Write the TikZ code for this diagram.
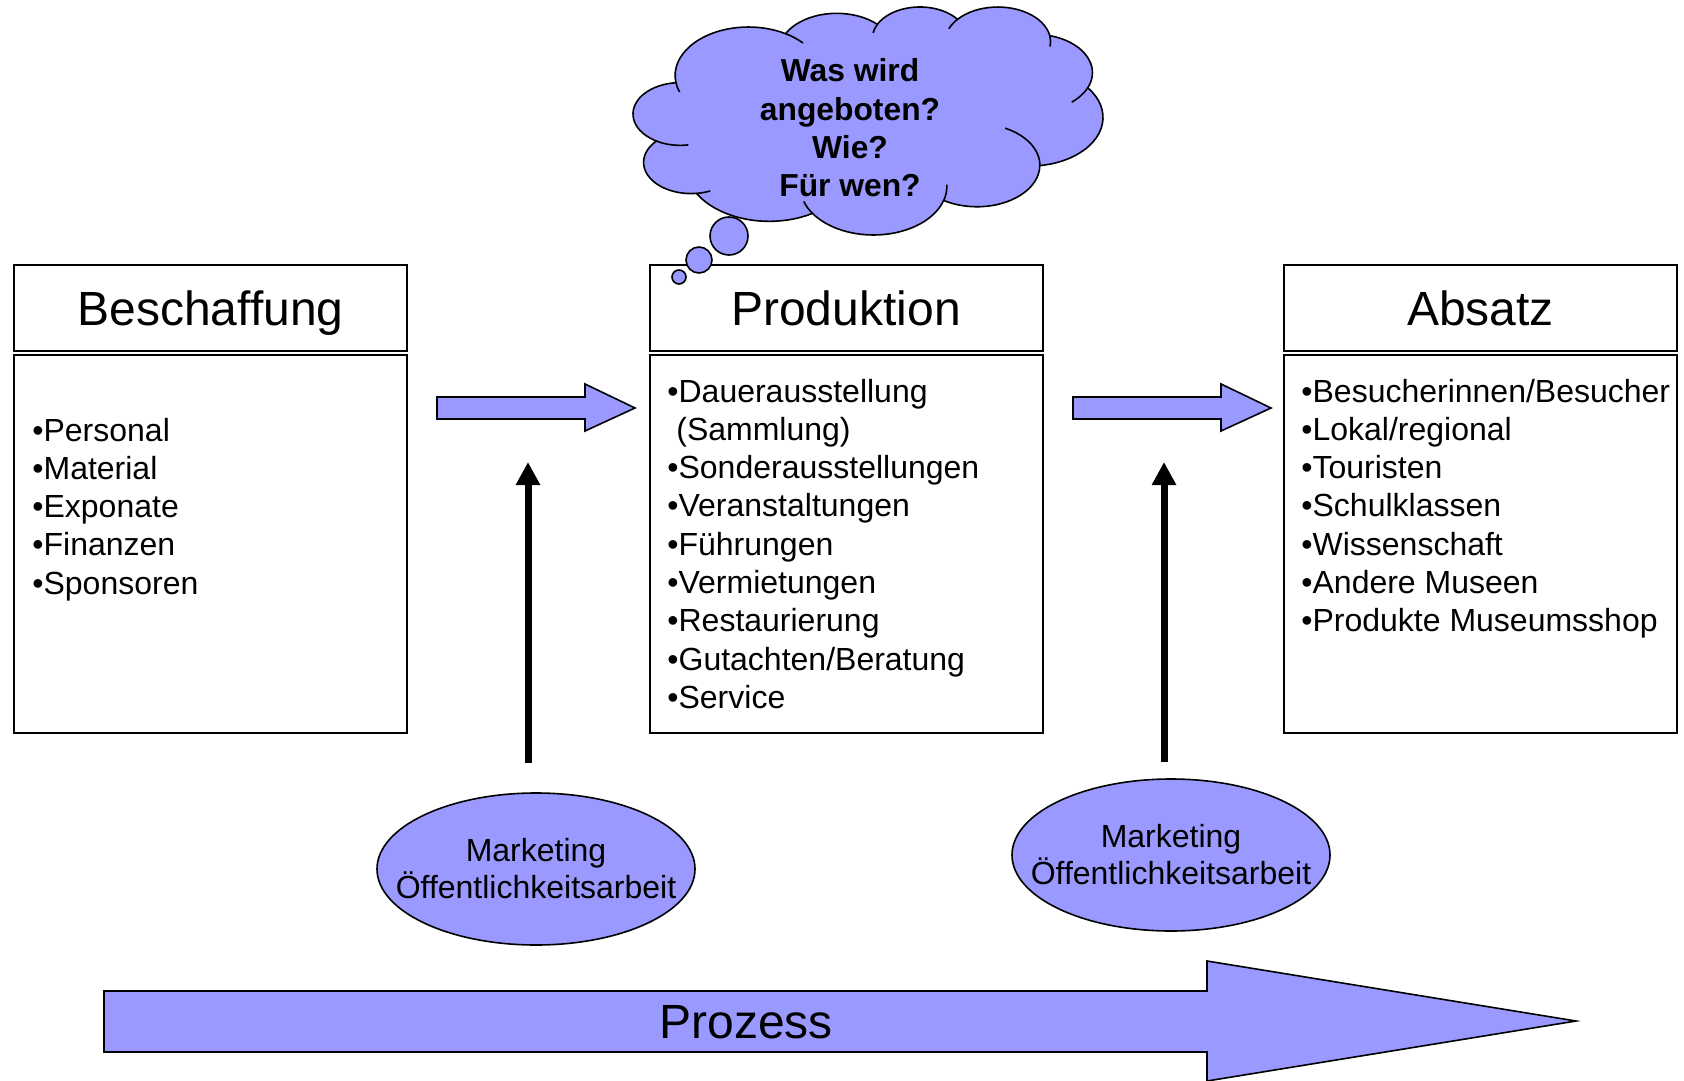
\documentclass[tikz,border=0pt]{standalone}
\usepackage{fontspec}
\setmainfont{Liberation Sans}
\usepackage{tikz}
\usetikzlibrary{positioning}
\usepackage{xcolor}
\usetikzlibrary{shapes,arrows}
\usetikzlibrary{arrows.meta}
\definecolor{lila}{HTML}{9999FF}
\def\listfont{\fontsize{16}{19.15}\selectfont}

\begin{document}
\begin{tikzpicture}[x=0.5pt, y=-0.5pt,
  head/.style={draw, line width=1pt, inner sep=0, minimum width=196.5pt, minimum height=43pt,
    font=\fontsize{24}{28}\selectfont, text height=20pt, text depth=2pt},
  panel/.style={draw, line width=1pt, minimum width=196.5pt, minimum height=189pt},
  item/.style={anchor=base west, inner sep=0, font=\listfont},
  blockarrow/.style={draw=black, fill=lila, line width=0.8pt, line join=miter},
  wolkenrand/.style={draw=black, line width=0.8pt},
  mkt/.style={ellipse, draw, fill=lila, line width=0.8pt, minimum width=159pt, minimum height=76pt},
  mkttext/.style={align=center, inner sep=0, font=\fontsize{16}{18.5}\selectfont},
  push/.style={line width=3.5pt, -{Triangle[width=11.5pt,length=11.5pt]}},
  bubble/.style={circle, draw, fill=lila, line width=0.8pt, inner sep=0}]

\useasboundingbox (0,0) rectangle (1684,1080);

% Denkwolke
\draw[wolkenrand, fill=lila] (675.8,82.05)
  arc[start angle=172.255, end angle=300.36, x radius=73.37, y radius=48.48]
  arc[start angle=-152.02, end angle=-45.45, x radius=57.94, y radius=38.33]
  arc[start angle=-153.49, end angle=-37.33, x radius=47.43, y radius=31.36]
  arc[start angle=-139.72, end angle=-10.21, x radius=52.77, y radius=34.79]
  arc[start angle=-74.77, end angle=23.22, x radius=57.94, y radius=38.37]
  arc[start angle=-37.53, end angle=81.87, x radius=73.61, y radius=48.64]
  arc[start angle=0.459, end angle=121.99, x radius=62.85, y radius=41.50]
  arc[start angle=16.85, end angle=146.23, x radius=73.36, y radius=48.61]
  arc[start angle=58.98, end angle=150.20, x radius=83.88, y radius=55.61]
  arc[start angle=83.30, end angle=223.10, x radius=47.37, y radius=31.22]
  arc[start angle=120.36, end angle=264.11, x radius=47.21, y radius=31.36] -- cycle;
\foreach \cx/\cy/\rx/\ry/\a/\b in {748.5/75.5/73.37/48.48/160/172.255, 748.5/75.5/73.37/48.48/-59.64/-42,
  680.2/114/47.21/31.36/80/120.36, 691/162.4/47.37/31.22/66/83.3, 873.5/186.4/73.36/48.61/146.23/162,
  919.8/38.4/47.43/31.36/-170/-153.49, 997.8/41.8/52.77/34.79/-158/-139.72, 997.8/41.8/52.77/34.79/-10.21/8,
  1034.5/72.7/57.94/38.37/23.22/50, 977/165.3/62.85/41.5/-63.5/0.459, 873.5/186.4/73.36/48.61/-2/16.85}
  \draw[wolkenrand] ({\cx+\rx*cos(\a)},{\cy+\ry*sin(\a)})
    arc[start angle=\a, end angle=\b, x radius=\rx, y radius=\ry];
\node[align=center, inner sep=0, font=\bfseries\fontsize{15.9}{19.15}\selectfont] (frage) at (850,128)
  {Was wird\\angeboten?\\Wie?\\Für wen?};

\node[head] (beschK) at (210.5,308) {Beschaffung};
\node[head] (prodK) at (846,308) {Produktion};
\node[head] (absK) at (1480.5,308) {Absatz};
\node[panel] (besch) at (210.5,544) {};
\node[panel] (prod) at (846,544) {};
\node[panel] (abs) at (1480.5,544) {};

\node[bubble, minimum size=19pt] (p1) at (729,236) {};
\node[bubble, minimum size=13pt] (p2) at (699,260) {};
\node[bubble, minimum size=7pt] (p3) at (679,277) {};

\foreach \t [count=\i] in {Personal,Material,Exponate,Finanzen,Sponsoren}
  \node[item] (b\i) at (32,{441+38.3*(\i-1)}) {•\t};
\foreach \t [count=\i] in {•Dauerausstellung,{\hspace*{.28em}(Sammlung)},•Sonderausstellungen,•Veranstaltungen,
  •Führungen,•Vermietungen,•Restaurierung,•Gutachten/Beratung,•Service}
  \node[item] (p\i) at (667,{402+38.3*(\i-1)}) {\t};
\foreach \t [count=\i] in {Besucherinnen/Besucher,Lokal/regional,Touristen,Schulklassen,Wissenschaft,
  Andere Museen,Produkte Museumsshop}
  \node[item] (a\i) at (1301,{402+38.3*(\i-1)}) {•\t};

\draw[blockarrow] (437,397) -- (585,397) -- (585,384) -- (635,408) -- (585,431) -- (585,419) -- (437,419) -- cycle;
\draw[blockarrow] (1073,397) -- (1221,397) -- (1221,384) -- (1271,408) -- (1221,431) -- (1221,419) -- (1073,419) -- cycle;

\node[mkt] (m1) at (536,869) {};
\node[mkttext] (m1t) at (m1) {Marketing\\Öffentlichkeitsarbeit};
\node[mkt] (m2) at (1171,855) {};
\node[mkttext] (m2t) at (m2) {Marketing\\Öffentlichkeitsarbeit};

\coordinate (t1) at (528,462);
\coordinate (t2) at (1164,462);
\draw[push, shorten <=14.5pt] (t1 |- m1.north) -- (t1);
\draw[push, shorten <=8pt] (t2 |- m2.north) -- (t2);

\draw[blockarrow] (104,991) -- (1207,991) -- (1207,961) -- (1576,1021) -- (1207,1081) -- (1207,1052) -- (104,1052) -- cycle;
\node[font=\fontsize{24}{28}\selectfont] (proz) at (746,1022) {Prozess};
\end{tikzpicture}
\end{document}
